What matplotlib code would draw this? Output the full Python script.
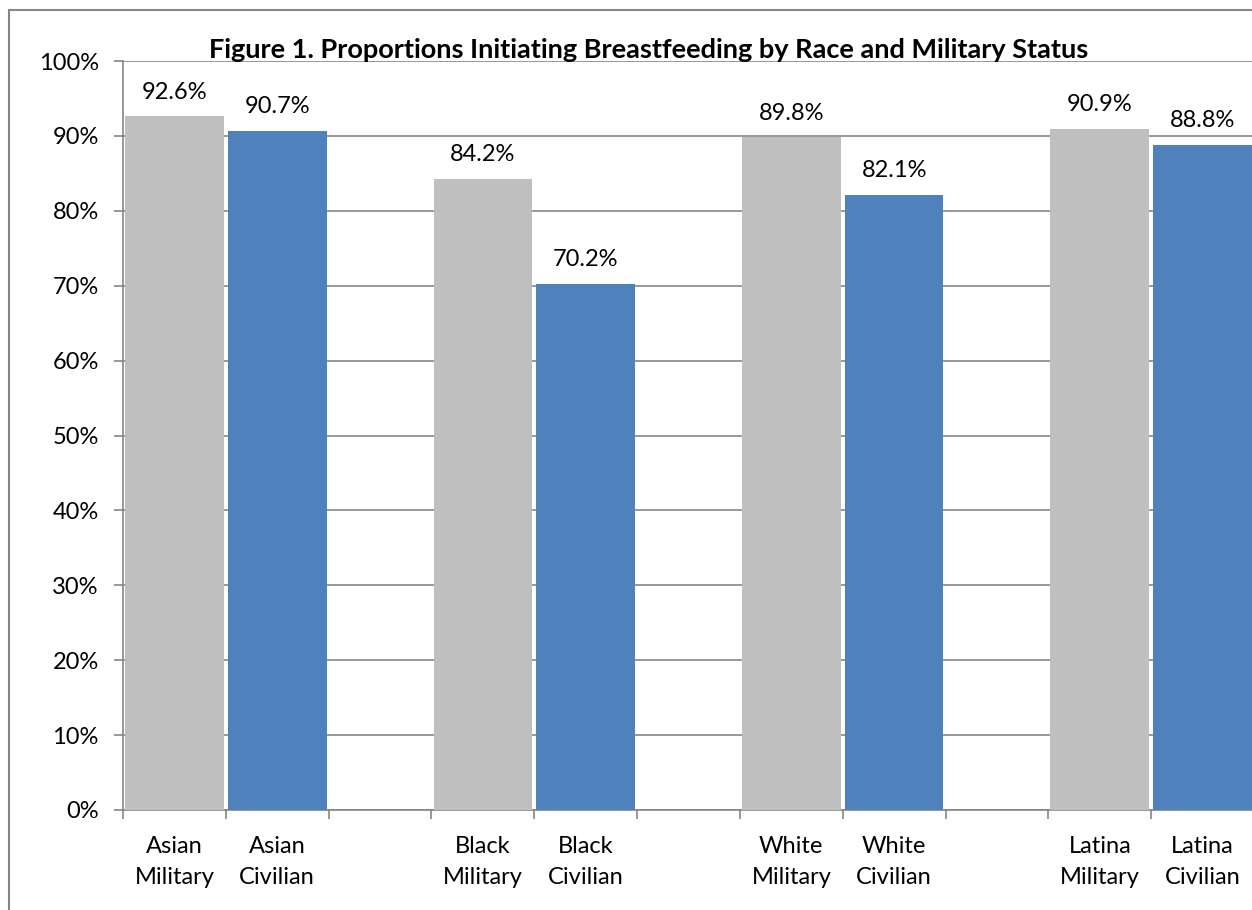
"""
plot.py

Bar chart: proportions initiating breastfeeding by race and military status.
"""
import matplotlib
matplotlib.use("Agg")
import matplotlib.pyplot as plt
from matplotlib.patches import Rectangle
import numpy as np

# Data --------------------------------------------
categories = [
    "Asian\nMilitary", "Asian\nCivilian", "",
    "Black\nMilitary", "Black\nCivilian", "",
    "White\nMilitary", "White\nCivilian", "",
    "Latina\nMilitary", "Latina\nCivilian",
]
values = [92.6, 90.7, None, 84.2, 70.2, None, 89.8, 82.1, None, 90.9, 88.8]
status = ["Military", "Civilian", None] * 3 + ["Military", "Civilian"]
y_ticks = list(range(0, 101, 10))

# Styling -----------------------------------------
colors = {"Military": "#BFBFBF", "Civilian": "#4F81BD"}
grid_color = "#868686"
plt.rcParams["font.family"] = ["Lato", "DejaVu Sans"]
fs = 17

W, H = 1252, 910
fig = plt.figure(figsize=(W / 100, H / 100), dpi=100)
ax = fig.add_axes([123 / W, 1 - 810 / H, (1254 - 123) / W, (810 - 61) / H])

x = np.arange(len(categories))
for xi, v, s in zip(x, values, status):
    if v is None:
        continue
    ax.bar(xi, v, width=0.96, color=colors[s], zorder=3)
    ax.annotate(f"{v:.1f}%", (xi, v), xytext=(0, 10), textcoords="offset points",
                ha="center", va="bottom", fontsize=fs)

ax.set_xlim(-0.5, len(categories) - 0.5)
ax.set_ylim(0, 100)

# y axis
ax.set_yticks(y_ticks)
ax.set_yticklabels([f"{t}%" for t in y_ticks], fontsize=fs)
ax.tick_params(axis="y", direction="out", length=6.5, width=1.2, color=grid_color, pad=11)
ax.grid(axis="y", color=grid_color, linewidth=1.2, zorder=0)

# x axis: labels at centres, ticks at boundaries
ax.set_xticks(x)
ax.set_xticklabels(categories, fontsize=fs, linespacing=1.55)
ax.tick_params(axis="x", which="major", length=0, pad=19)
ax.set_xticks(np.arange(-0.5, len(categories), 1), minor=True)
ax.tick_params(axis="x", which="minor", direction="out", length=6.5, width=1.2, color=grid_color)

for side in ["top", "right"]:
    ax.spines[side].set_visible(False)
for side in ["left", "bottom"]:
    ax.spines[side].set_color(grid_color)
    ax.spines[side].set_linewidth(1.2)

# Title
fig.text(649 / W, 1 - 58 / H, "Figure 1. Proportions Initiating Breastfeeding by Race and Military Status",
         ha="center", va="baseline", fontsize=19.5, fontweight="bold")

# Chart border
fig.patches.append(Rectangle((9 / W, -0.05), 1.2, 1.05 - 10 / H, transform=fig.transFigure,
                             fill=False, edgecolor=grid_color, linewidth=1.5))

fig.savefig("out.png", dpi=100)
